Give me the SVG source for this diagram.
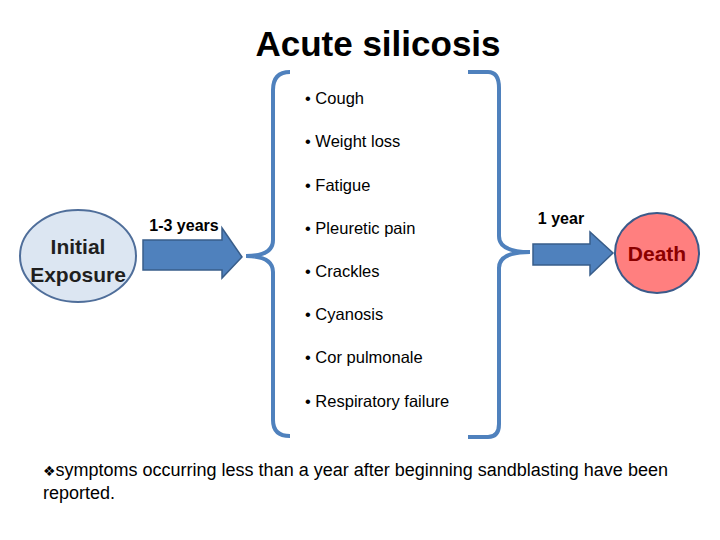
<svg xmlns="http://www.w3.org/2000/svg" width="720" height="540" viewBox="0 0 720 540">
<style>
text{font-family:"Liberation Sans",Arial,sans-serif}
.k{fill:#000}
.it{font-size:16.5px;fill:#000}
.lbl{font-size:16px;font-weight:bold;fill:#000}
.br{fill:none;stroke:#4f81bd;stroke-width:4}
.ar{fill:#4f81bd;stroke:#385d8a;stroke-width:1.5}
.ni{fill:#1f1f1f;font-size:21px;font-weight:bold}
.nd{fill:#8b0000;font-size:21px;font-weight:bold}
</style>
<rect width="720" height="540" fill="#fff"/>
<text class="k" x="378" y="56" text-anchor="middle" font-size="35" font-weight="bold">Acute silicosis</text>
<g id="connectors">
<path class="br" d="M290,72 Q273,72 273,90 L273,240 Q273,256 246,256 Q273,256 273,272 L273,420 Q273,436 290,436"/>
<path class="br" d="M468,72 L488,72 Q499,72 499,88 L499,236 Q499,252 530,252 Q499,252 499,268 L499,424 Q499,437 488,437 L468,437"/>
<path class="ar" d="M143,240 L222,240 L222,228 L242,257 L222,278 L222,270 L143,270 Z"/>
<path class="ar" d="M533,244 L590,244 L590,232 L613,253 L590,275 L590,265 L533,265 Z"/>
<text class="lbl" x="184" y="231" text-anchor="middle">1-3 years</text>
<text class="lbl" x="561" y="224" text-anchor="middle">1 year</text>
</g>
<g id="initial">
<ellipse cx="78" cy="256" rx="58" ry="46" fill="#dce6f2" stroke="#4f6e9a" stroke-width="2"/>
<text class="ni" x="78" y="254" text-anchor="middle">Initial</text>
<text class="ni" x="78" y="282" text-anchor="middle">Exposure</text>
</g>
<g id="death">
<ellipse cx="657" cy="253" rx="42" ry="40" fill="#ff7f7f" stroke="#3b5a8a" stroke-width="2"/>
<text class="nd" x="657" y="261" text-anchor="middle">Death</text>
</g>
<g id="symptoms">
<text x="305" y="104" class="it">• Cough</text>
<text x="305" y="147" class="it">• Weight loss</text>
<text x="305" y="191" class="it">• Fatigue</text>
<text x="305" y="234" class="it">• Pleuretic pain</text>
<text x="305" y="277" class="it">• Crackles</text>
<text x="305" y="320" class="it">• Cyanosis</text>
<text x="305" y="363" class="it">• Cor pulmonale</text>
<text x="305" y="407" class="it">• Respiratory failure</text>
</g>
<g id="note">
<text class="k" x="43" y="476" font-size="18"><tspan font-family="DejaVu Sans" font-size="14">❖</tspan>symptoms occurring less than a year after beginning sandblasting have been</text>
<text class="k" x="43" y="499" font-size="18">reported.</text>
</g>
</svg>
